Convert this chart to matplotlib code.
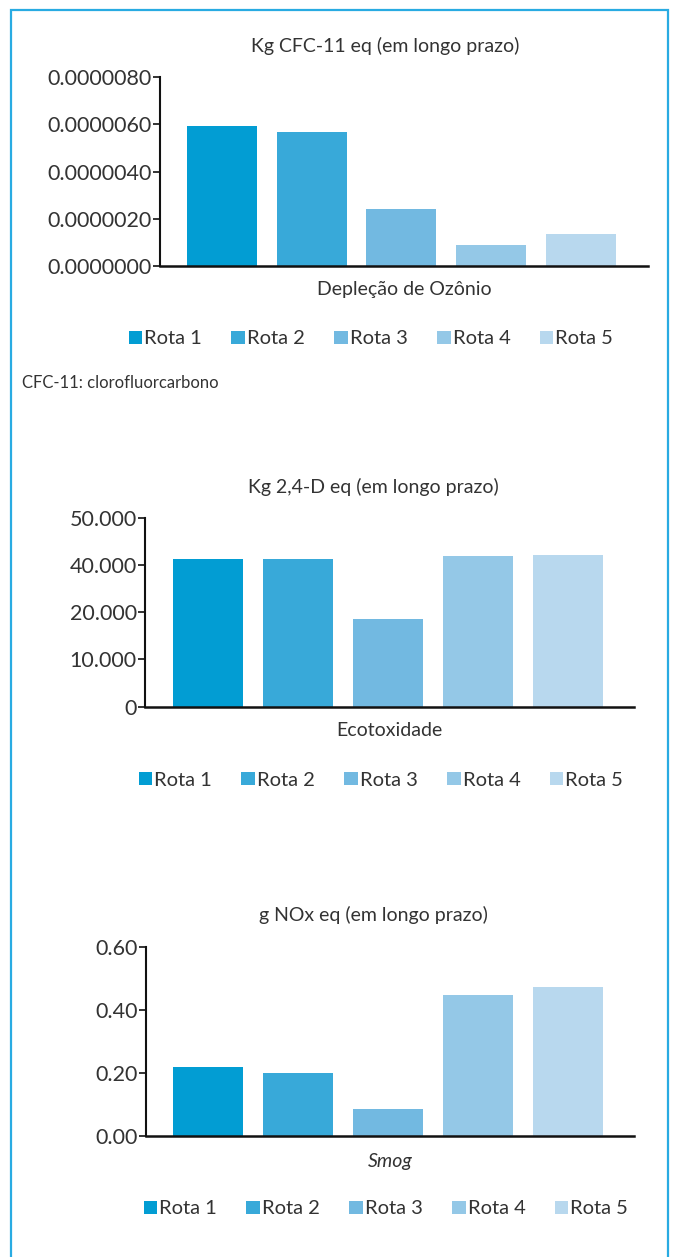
import matplotlib

matplotlib.use("Agg")
import matplotlib.pyplot as plt
from matplotlib.patches import Rectangle

plt.rcParams["font.family"] = ["Lato", "DejaVu Sans"]
plt.rcParams["font.weight"] = "normal"
plt.rcParams["text.color"] = "#333333"

ROTAS = ["Rota 1", "Rota 2", "Rota 3", "Rota 4", "Rota 5"]
COLORS = ["#029dd3", "#38a9d9", "#72b9e1", "#94c8e7", "#b8d8ee"]

# Depleção de Ozônio (kg CFC-11 eq)
ozonio = [5.93e-6, 5.68e-6, 2.42e-6, 0.90e-6, 1.36e-6]
ozonio_ticks = [0, 2e-6, 4e-6, 6e-6, 8e-6]
ozonio_labels = ["0.0000000", "0.0000020", "0.0000040", "0.0000060", "0.0000080"]

# Ecotoxidade (kg 2,4-D eq)
ecotox = [31260, 31260, 18560, 31900, 32100]
ecotox_ticks = [0, 10000, 20000, 30000, 40000]
ecotox_labels = ["0", "10.000", "20.000", "40.000", "50.000"]

# Smog (g NOx eq)
smog = [0.218, 0.199, 0.085, 0.446, 0.471]
smog_ticks = [0.0, 0.2, 0.4, 0.6]
smog_labels = ["0.00", "0.20", "0.40", "0.60"]

W, H = 676, 1257
FS = 14
TICK_FS = 15.5


def fx(px):
    return px / W


def fy(py):
    return 1 - py / H


def bar_panel(fig, box, values, ticks, labels, xlim, title, title_x, title_y,
              xlabel, xlabel_y, legend_x, legend_y, italic=False):
    left, top, right, bottom = box
    ax = fig.add_axes([fx(left), fy(bottom), fx(right - left), (bottom - top) / H])
    bars = ax.bar(range(len(values)), values, width=0.78, color=COLORS, zorder=2)
    ax.set_xlim(*xlim)
    ax.set_ylim(ticks[0], ticks[-1])
    ax.set_yticks(ticks)
    ax.set_yticklabels(labels, fontsize=TICK_FS)
    ax.set_xticks([])
    for side in ("top", "right"):
        ax.spines[side].set_visible(False)
    ax.spines["left"].set_linewidth(1.5)
    ax.spines["bottom"].set_linewidth(1.8)
    ax.spines["left"].set_color("#111111")
    ax.spines["bottom"].set_color("#111111")
    ax.tick_params(axis="y", length=5, width=1.2, pad=1, colors="#111111",
                   labelcolor="#333333")
    fig.text(fx(title_x), fy(title_y), title, ha="center", va="center", fontsize=FS)
    fig.text(fx((left + right) / 2), fy(xlabel_y), xlabel, ha="center", va="center",
             fontsize=FS, style="italic" if italic else "normal")
    fig.legend(bars, ROTAS, loc="center", bbox_to_anchor=(fx(legend_x), fy(legend_y)),
               ncol=5, frameon=False, fontsize=FS + 0.5, handlelength=0.68,
               handleheight=0.68, handletextpad=0.1, columnspacing=1.45,
               borderaxespad=0)
    return ax


fig = plt.figure(figsize=(W / 100, H / 100), dpi=100)

# outer frame
fig.add_artist(Rectangle((fx(11), fy(1262)), fx(657), (1262 - 10) / H, fill=False,
                         edgecolor="#29abe2", linewidth=1.6, transform=fig.transFigure))

bar_panel(fig, (160, 77.3, 648, 266), ozonio, ozonio_ticks, ozonio_labels,
          (-0.69, 4.746), "Kg CFC-11 eq (em longo prazo)", 385, 46,
          "Depleção de Ozônio", 290, 371, 339)
fig.text(fx(22), fy(383), "CFC-11: clorofluorcarbono", ha="left", va="center", fontsize=12)

bar_panel(fig, (145, 517.7, 634, 706.7), ecotox, ecotox_ticks, ecotox_labels,
          (-0.70, 4.733), "Kg 2,4-D eq (em longo prazo)", 373, 487,
          "Ecotoxidade", 731, 381, 780)

bar_panel(fig, (146, 946.7, 634, 1136), smog, smog_ticks, smog_labels,
          (-0.689, 4.733), "g NOx eq (em longo prazo)", 373, 915,
          "Smog", 1161, 386, 1209, italic=True)

fig.savefig("out.png", dpi=100)
